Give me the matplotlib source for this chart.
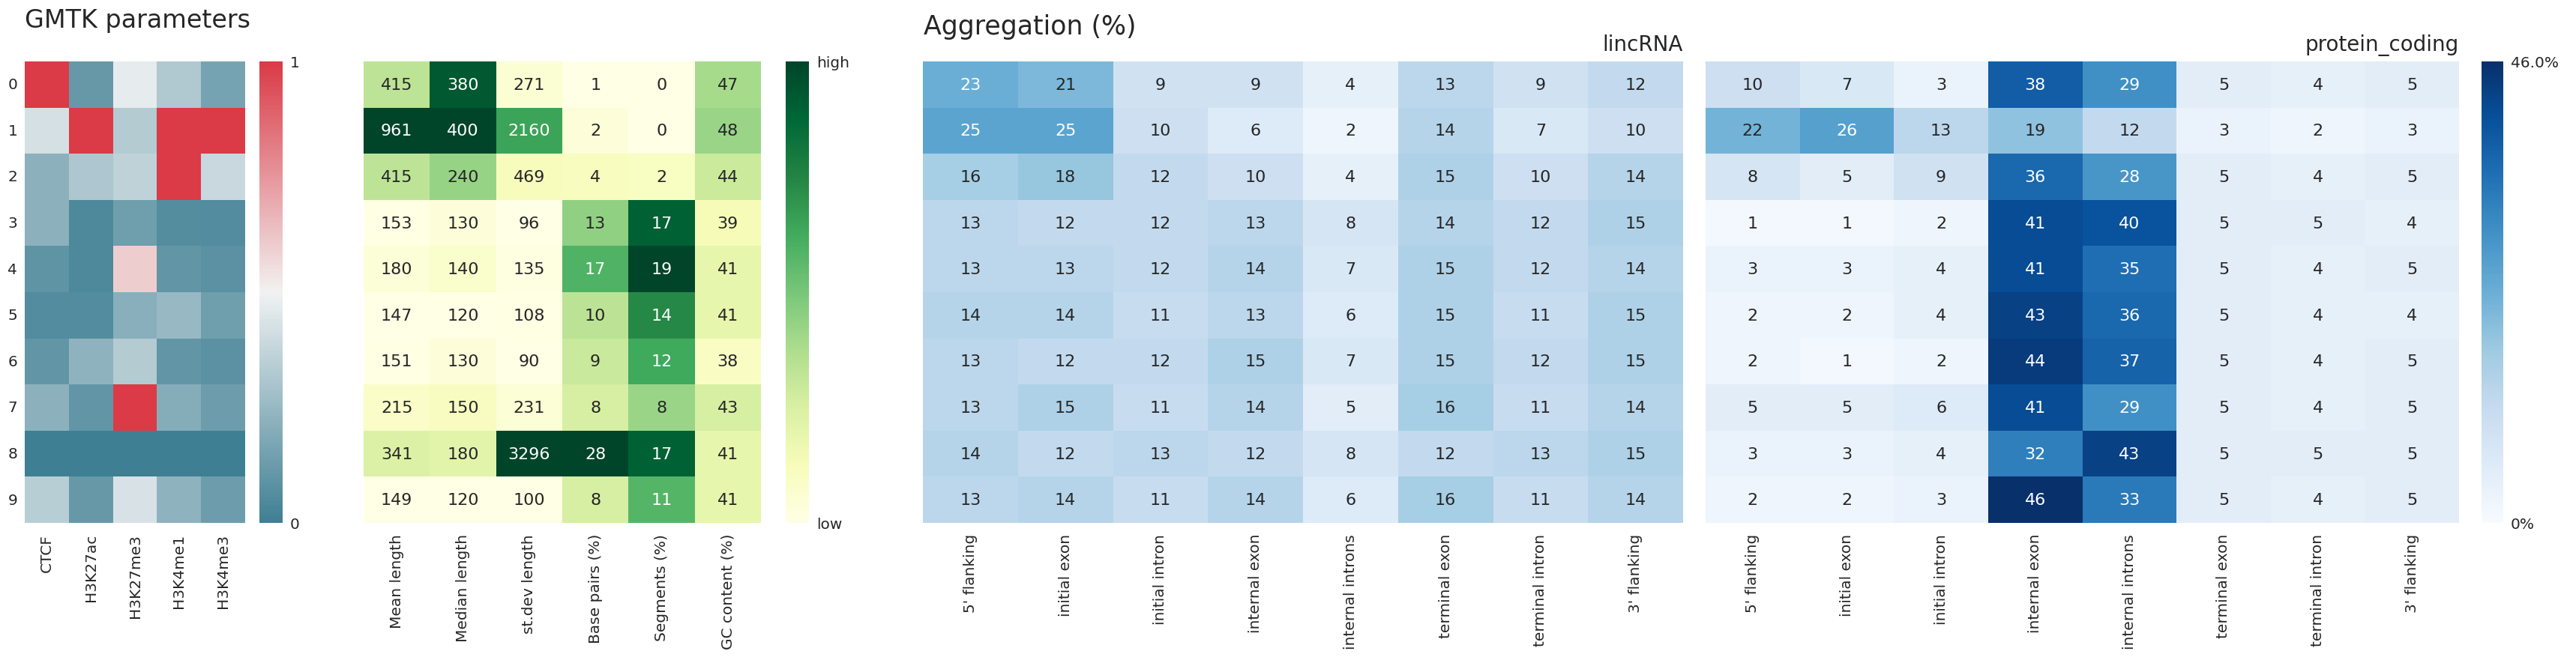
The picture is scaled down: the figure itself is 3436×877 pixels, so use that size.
import numpy as np
import matplotlib
matplotlib.use('Agg')
import matplotlib.pyplot as plt
import seaborn as sns

# ---- data -------------------------------------------------------------
marks = ['CTCF', 'H3K27ac', 'H3K27me3', 'H3K4me1', 'H3K4me3']
states = [str(i) for i in range(10)]

# GMTK emission parameters (scaled 0..1), rows = states 0..9
gmtk = [
    [1.00, 0.11, 0.47, 0.32, 0.16],
    [0.42, 1.00, 0.33, 1.00, 1.00],
    [0.22, 0.31, 0.36, 1.00, 0.39],
    [0.22, 0.04, 0.14, 0.06, 0.055],
    [0.09, 0.04, 0.60, 0.10, 0.08],
    [0.055, 0.055, 0.21, 0.25, 0.14],
    [0.10, 0.23, 0.33, 0.10, 0.08],
    [0.22, 0.10, 1.00, 0.20, 0.13],
    [0.00, 0.00, 0.00, 0.00, 0.00],
    [0.34, 0.11, 0.43, 0.23, 0.13],
]

stat_cols = ['Mean length', 'Median length', 'st.dev length',
             'Base pairs (%)', 'Segments (%)', 'GC content (%)']
mean_length = [415, 961, 415, 153, 180, 147, 151, 215, 341, 149]
median_length = [380, 400, 240, 130, 140, 120, 130, 150, 180, 120]
stdev_length = [271, 2160, 469, 96, 135, 108, 90, 231, 3296, 100]
base_pairs = [1, 2, 4, 13, 17, 10, 9, 8, 28, 8]
segments = [0, 0, 2, 17, 19, 14, 12, 8, 17, 11]
gc_content = [47, 48, 44, 39, 41, 41, 38, 43, 41, 41]
gc_range = (35, 66)  # colour range used for the GC column

regions = ["5' flanking", 'initial exon', 'initial intron', 'internal exon',
           'internal introns', 'terminal exon', 'terminal intron', "3' flanking"]
lincrna = [
    [23, 21, 9, 9, 4, 13, 9, 12],
    [25, 25, 10, 6, 2, 14, 7, 10],
    [16, 18, 12, 10, 4, 15, 10, 14],
    [13, 12, 12, 13, 8, 14, 12, 15],
    [13, 13, 12, 14, 7, 15, 12, 14],
    [14, 14, 11, 13, 6, 15, 11, 15],
    [13, 12, 12, 15, 7, 15, 12, 15],
    [13, 15, 11, 14, 5, 16, 11, 14],
    [14, 12, 13, 12, 8, 12, 13, 15],
    [13, 14, 11, 14, 6, 16, 11, 14],
]
protein_coding = [
    [10, 7, 3, 38, 29, 5, 4, 5],
    [22, 26, 13, 19, 12, 3, 2, 3],
    [8, 5, 9, 36, 28, 5, 4, 5],
    [1, 1, 2, 41, 40, 5, 5, 4],
    [3, 3, 4, 41, 35, 5, 4, 5],
    [2, 2, 4, 43, 36, 5, 4, 4],
    [2, 1, 2, 44, 37, 5, 4, 5],
    [5, 5, 6, 41, 29, 5, 4, 5],
    [3, 3, 4, 32, 43, 5, 5, 5],
    [2, 2, 3, 46, 33, 5, 4, 5],
]
agg_max = 46.0

# ---- figure -------------------------------------------------------------
sns.set_style('white')
plt.rcParams['font.family'] = ['DejaVu Sans']
plt.rcParams['text.color'] = '.15'

W, H = 3436, 878
fig = plt.figure(figsize=(W / 100, H / 100), dpi=100)
TOP, BOT = 83, 699

def px_axes(x0, x1):
    return fig.add_axes([x0 / W, (H - BOT) / H, (x1 - x0) / W, (BOT - TOP) / H])

ax1 = px_axes(33, 327)
cb1 = px_axes(346, 377)
ax2 = px_axes(485, 1015)
cb2 = px_axes(1048, 1079)
ax3 = px_axes(1231, 2245)
ax4 = px_axes(2275, 3280)
cb4 = px_axes(3310, 3339)

TICK = 14.5
ANNOT = 16

# GMTK parameters
cmap1 = sns.diverging_palette(220, 10, as_cmap=True)
sns.heatmap(np.array(gmtk), ax=ax1, cmap=cmap1, vmin=0, vmax=1,
            cbar_ax=cb1, cbar_kws={'ticks': [0, 1]},
            xticklabels=marks, yticklabels=states)
ax1.set_yticklabels(states, rotation=0, fontsize=TICK)
cb1.set_yticklabels(['0', '1'])

# segment statistics, coloured per column
stats = np.array([mean_length, median_length, stdev_length,
                  base_pairs, segments, gc_content], dtype=float).T
norm = np.zeros_like(stats)
for j in range(stats.shape[1]):
    col = stats[:, j]
    lo, hi = (col.min(), col.max()) if j < 5 else gc_range
    norm[:, j] = (col - lo) / (hi - lo)
sns.heatmap(norm, ax=ax2, cmap='YlGn', vmin=0, vmax=1,
            annot=stats.astype(int), fmt='d', annot_kws={'fontsize': ANNOT},
            cbar_ax=cb2, cbar_kws={'ticks': [0, 1]},
            xticklabels=stat_cols, yticklabels=False)
cb2.set_yticklabels(['low', 'high'])

# aggregation
sns.heatmap(np.array(lincrna), ax=ax3, cmap='Blues', vmin=0, vmax=agg_max,
            annot=True, fmt='d', annot_kws={'fontsize': ANNOT}, cbar=False,
            xticklabels=regions, yticklabels=False)
sns.heatmap(np.array(protein_coding), ax=ax4, cmap='Blues', vmin=0, vmax=agg_max,
            annot=True, fmt='d', annot_kws={'fontsize': ANNOT},
            cbar_ax=cb4, cbar_kws={'ticks': [0, agg_max]},
            xticklabels=regions, yticklabels=False)
cb4.set_yticklabels(['0%', '%.1f%%' % agg_max])

for ax in (ax1, ax2, ax3, ax4):
    ax.set_xticklabels(ax.get_xticklabels(), rotation=90, fontsize=TICK)
    ax.tick_params(axis='x', length=0, pad=10)
    ax.tick_params(axis='y', length=0, pad=7)
for cb in (cb1, cb2, cb4):
    cb.tick_params(length=0, labelsize=TICK, pad=7)

ax3.set_title('lincRNA', loc='right', fontsize=20, pad=11)
ax4.set_title('protein_coding', loc='right', fontsize=20, pad=11)

fig.text(33 / W, 1 - 37 / H, 'GMTK parameters', fontsize=24, va='baseline')
fig.text(1232 / W, 1 - 46 / H, 'Aggregation (%)', fontsize=25, va='baseline')

fig.savefig('out.png', dpi=100)
